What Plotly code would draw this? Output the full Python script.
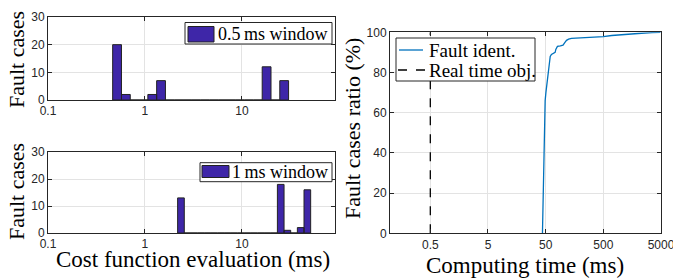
import plotly.graph_objects as go

# ---------------- data ----------------
# Histogram 1 (0.5 ms window): log-spaced bins
top_first_edge_ms = 0.4645
top_bin_ratio = 1.2323
top_counts = [20, 2, 0, 0, 2, 7, 0, 0, 0, 0, 0, 0, 0, 0, 0, 0, 0, 12, 0, 7]

# Histogram 2 (1 ms window)
bot_first_edge_ms = 2.173
bot_bin_ratio = 1.1711
bot_counts = [13, 0, 0, 0, 0, 0, 0, 0, 0, 0, 0, 0, 0, 0, 0, 18, 1, 0, 2, 16]

hist_xticks = [0.1, 1, 10]
hist_xticklabels = ["0.1", "1", "10"]
hist_yticks = [0, 10, 20, 30]

# CDF of computing time
cdf_time_ms = [44, 45.5, 46.5, 47.7, 49, 50.5, 53, 56, 58, 60, 63, 70, 73, 75, 77,
               80, 90, 100, 108, 115, 125, 140, 200, 300, 500, 700, 1000, 2000,
               3500, 4900]
cdf_ratio = [0, 20, 40, 60, 66, 70, 76, 82, 86, 88, 89, 89.5, 90, 91.5, 92.5,
             93, 93.2, 93.6, 95, 96, 96.6, 97, 97.2, 97.4, 97.8, 98.4, 98.8, 99.4,
             99.8, 100]
real_time_obj_ms = 0.5
cdf_xticks = [0.5, 5, 50, 500, 5000]
cdf_xticklabels = ["0.5", "5", "50", "500", "5000"]
cdf_yticks = [0, 20, 40, 60, 80, 100]

# ---------------- style ----------------
W, H = 673, 278
BAR = "rgb(62,38,168)"
BLUE = "#0072BD"
AX = "#262626"
GRID = "#e3e3e3"
SERIF = "Liberation Serif"
SANS = "Liberation Sans"


def px(x):
    return x / W


def py(y):
    return 1 - y / H


def hist_polys(first, ratio, counts):
    xs, ys = [], []
    for i, c in enumerate(counts):
        x0 = first * ratio ** i
        x1 = first * ratio ** (i + 1)
        xs += [x0, x0, x1, x1, x0, None]
        ys += [0, c, c, 0, 0, None]
    return xs, ys


fig = go.Figure()

xs, ys = hist_polys(top_first_edge_ms, top_bin_ratio, top_counts)
fig.add_trace(go.Scatter(x=xs, y=ys, mode="lines", fill="toself", fillcolor=BAR,
                         line=dict(color="#222222", width=1), xaxis="x", yaxis="y",
                         showlegend=False, hoverinfo="skip"))
xs, ys = hist_polys(bot_first_edge_ms, bot_bin_ratio, bot_counts)
fig.add_trace(go.Scatter(x=xs, y=ys, mode="lines", fill="toself", fillcolor=BAR,
                         line=dict(color="#222222", width=1), xaxis="x2", yaxis="y2",
                         showlegend=False, hoverinfo="skip"))

fig.add_trace(go.Scatter(x=cdf_time_ms, y=cdf_ratio, mode="lines",
                         line=dict(color=BLUE, width=1.3), xaxis="x3", yaxis="y3",
                         showlegend=False))
fig.add_trace(go.Scatter(x=[real_time_obj_ms, real_time_obj_ms], y=[0, 100], mode="lines",
                         line=dict(color="black", width=1.3, dash="dash"),
                         xaxis="x3", yaxis="y3", showlegend=False))

common = dict(showline=True, linecolor=AX, linewidth=1, mirror="ticks", ticks="inside",
              ticklen=4, tickcolor=AX, showgrid=True, gridcolor=GRID, gridwidth=1,
              zeroline=False, automargin=False, ticklabeloverflow="allow",
              tickfont=dict(family=SANS, size=12, color=AX))

fig.update_layout(
    template="none",
    width=W, height=H, margin=dict(l=0, r=0, t=0, b=0, pad=0),
    paper_bgcolor="white", plot_bgcolor="white", showlegend=False,
    xaxis=dict(type="log", domain=[px(48), px(335)], range=[-1, 1.96],
               tickvals=hist_xticks, ticktext=hist_xticklabels, anchor="y", **common),
    yaxis=dict(domain=[py(100), py(17)], range=[0, 30], tickvals=hist_yticks,
               anchor="x", **common),
    xaxis2=dict(type="log", domain=[px(48), px(335)], range=[-1, 1.96],
                tickvals=hist_xticks, ticktext=hist_xticklabels, anchor="y2", **common),
    yaxis2=dict(domain=[py(233), py(152)], range=[0, 30], tickvals=hist_yticks,
                anchor="x2", **common),
    xaxis3=dict(type="log", domain=[px(390), px(661)], range=[-1, 3.699],
                tickvals=cdf_xticks, ticktext=cdf_xticklabels, anchor="y3", **common),
    yaxis3=dict(domain=[py(233.3), py(32.3)], range=[0, 100], tickvals=cdf_yticks,
                anchor="x3", **common),
)

shapes = []
ann = []


def rect(x0, y0, x1, y1, fill="white", line=AX, lw=1):
    shapes.append(dict(type="rect", xref="paper", yref="paper",
                       x0=px(x0), x1=px(x1), y0=py(y1), y1=py(y0),
                       fillcolor=fill, line=dict(color=line, width=lw), layer="above"))


def text(x, y, s, size=19, xanchor="left", angle=0):
    ann.append(dict(xref="paper", yref="paper", x=px(x), y=py(y), text=s,
                    showarrow=False, xanchor=xanchor, yanchor="middle", textangle=angle,
                    font=dict(family=SERIF, size=size, color="black")))


# legend top-left
rect(185, 22.5, 332, 44)
rect(188, 26.5, 214, 42, fill=BAR, line="#222222")
text(216, 34, "0.5\u2009ms window", 18)
# legend bottom-left
rect(200, 162.7, 332, 181.7)
rect(202, 165.5, 229, 177.5, fill=BAR, line="#222222")
text(230, 172, "1\u2009ms window", 18)
# legend right
rect(396, 38, 535, 81)
shapes.append(dict(type="line", xref="paper", yref="paper", x0=px(399), x1=px(423),
                   y0=py(50), y1=py(50), line=dict(color=BLUE, width=1.3), layer="above"))
shapes.append(dict(type="line", xref="paper", yref="paper", x0=px(398), x1=px(425),
                   y0=py(70), y1=py(70), line=dict(color="black", width=1.3, dash="dash"),
                   layer="above"))
text(427, 50, "Fault ident.", 19)
text(427, 70, "Real time obj.", 19)

# axis titles
text(16, 60, "Fault cases", 22, "center", -90)
text(16, 192, "Fault cases", 22, "center", -90)
text(193, 259, "Cost function evaluation (ms)", 23, "center")
text(352, 129, "Fault cases ratio (%)", 22, "center", -90)
text(525, 265, "Computing time (ms)", 23, "center")

fig.update_layout(shapes=shapes, annotations=ann)
fig.write_html(
    "out.html",
    config={"displayModeBar": False},
    post_script="document.body.style.margin='0';document.body.style.overflow='hidden';",
)
